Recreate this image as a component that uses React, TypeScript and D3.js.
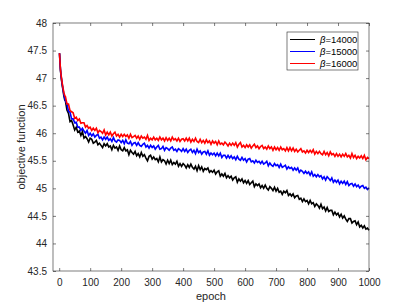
import React, { useEffect, useRef } from "react";
import * as d3 from "d3";

// sampled epochs (dense at the start where the curves drop fast)
const epochs = [
  1, 2, 3, 4, 6, 8, 10, 12, 15, 18,
  20, 25, 30, 35, 40, 45, 50, 55, 60, 65, 70, 75, 80, 85, 90, 95, 100,
  105, 110, 115, 120, 125, 130, 135, 140, 145, 150,
  155, 160, 165, 170, 175, 180, 185, 190, 195, 200,
  205, 210, 215, 220, 225, 230, 235, 240, 245, 250,
  255, 260, 265, 270, 275, 280, 285, 290, 295, 300,
  305, 310, 315, 320, 325, 330, 335, 340, 345, 350,
  355, 360, 365, 370, 375, 380, 385, 390, 395, 400,
  405, 410, 415, 420, 425, 430, 435, 440, 445, 450,
  455, 460, 465, 470, 475, 480, 485, 490, 495, 500,
  505, 510, 515, 520, 525, 530, 535, 540, 545, 550,
  555, 560, 565, 570, 575, 580, 585, 590, 595, 600,
  605, 610, 615, 620, 625, 630, 635, 640, 645, 650,
  655, 660, 665, 670, 675, 680, 685, 690, 695, 700,
  705, 710, 715, 720, 725, 730, 735, 740, 745, 750,
  755, 760, 765, 770, 775, 780, 785, 790, 795, 800,
  805, 810, 815, 820, 825, 830, 835, 840, 845, 850,
  855, 860, 865, 870, 875, 880, 885, 890, 895, 900,
  905, 910, 915, 920, 925, 930, 935, 940, 945, 950,
  955, 960, 965, 970, 975, 980, 985, 990, 995, 1000,
];

const beta14000 = [
  47.45, 47.34, 47.24, 47.15, 47.03, 46.94, 46.86, 46.79, 46.68, 46.6,
  46.59, 46.42, 46.36, 46.21, 46.23, 46.15, 46.06, 46.11, 46.02, 46.04, 45.96, 46.03, 45.91, 45.94, 45.9, 45.84, 45.91,
  45.89, 45.82, 45.84, 45.87, 45.79, 45.82, 45.78, 45.74, 45.81, 45.77,
  45.81, 45.75, 45.77, 45.7, 45.78, 45.73, 45.75, 45.69, 45.77, 45.7,
  45.68, 45.74, 45.68, 45.7, 45.61, 45.69, 45.65, 45.62, 45.67, 45.59,
  45.63, 45.57, 45.65, 45.58, 45.61, 45.55, 45.5, 45.58, 45.6, 45.53,
  45.57, 45.52, 45.54, 45.48, 45.57, 45.48, 45.52, 45.5, 45.44, 45.51,
  45.45, 45.51, 45.43, 45.47, 45.44, 45.49, 45.4, 45.45, 45.4, 45.45,
  45.42, 45.37, 45.43, 45.38, 45.44, 45.38, 45.35, 45.4, 45.32, 45.41,
  45.34, 45.39, 45.31, 45.36, 45.34, 45.37, 45.29, 45.32, 45.29, 45.33,
  45.26, 45.3, 45.32, 45.22, 45.26, 45.22, 45.27, 45.19, 45.23, 45.19,
  45.22, 45.15, 45.19, 45.21, 45.11, 45.17, 45.13, 45.17, 45.1, 45.14,
  45.09, 45.14, 45.07, 45.1, 45.13, 45.03, 45.08, 45.05, 45.08, 45.01,
  45.05, 45.0, 45.06, 45.0, 44.97, 45.03, 45.0, 44.96, 45.02, 44.95,
  45.0, 44.93, 44.95, 44.89, 44.95, 44.92, 44.96, 44.87, 44.9, 44.86,
  44.9, 44.83, 44.86, 44.87, 44.8, 44.82, 44.76, 44.81, 44.76, 44.78,
  44.72, 44.78, 44.72, 44.74, 44.67, 44.72, 44.69, 44.64, 44.71, 44.63,
  44.66, 44.59, 44.65, 44.58, 44.6, 44.6, 44.52, 44.57, 44.52, 44.55,
  44.48, 44.53, 44.46, 44.5, 44.44, 44.4, 44.45, 44.45, 44.37, 44.4,
  44.41, 44.34, 44.39, 44.3, 44.33, 44.28, 44.32, 44.26, 44.28, 44.24,
];

const beta15000 = [
  47.45, 47.35, 47.25, 47.16, 47.05, 46.96, 46.88, 46.81, 46.71, 46.64,
  46.59, 46.53, 46.4, 46.38, 46.26, 46.26, 46.19, 46.2, 46.11, 46.11, 46.05, 46.09, 46.04, 46.0, 46.05, 45.96, 46.0,
  45.95, 45.99, 45.93, 45.96, 45.98, 45.91, 45.93, 45.88, 45.93, 45.89,
  45.93, 45.87, 45.9, 45.85, 45.92, 45.86, 45.84, 45.88, 45.87, 45.83,
  45.87, 45.81, 45.88, 45.82, 45.81, 45.85, 45.78, 45.82, 45.83, 45.78,
  45.83, 45.78, 45.76, 45.8, 45.82, 45.75, 45.78, 45.73, 45.78, 45.74,
  45.77, 45.71, 45.75, 45.78, 45.71, 45.72, 45.76, 45.69, 45.74, 45.72,
  45.69, 45.73, 45.75, 45.69, 45.71, 45.67, 45.72, 45.7, 45.67, 45.72,
  45.67, 45.71, 45.65, 45.69, 45.71, 45.65, 45.69, 45.63, 45.71, 45.65,
  45.68, 45.62, 45.66, 45.67, 45.62, 45.68, 45.6, 45.64, 45.61, 45.64,
  45.59, 45.64, 45.59, 45.64, 45.56, 45.6, 45.6, 45.55, 45.6, 45.55,
  45.59, 45.54, 45.57, 45.52, 45.58, 45.53, 45.51, 45.56, 45.51, 45.54,
  45.48, 45.53, 45.54, 45.48, 45.5, 45.46, 45.51, 45.47, 45.49, 45.45,
  45.49, 45.44, 45.46, 45.49, 45.41, 45.46, 45.42, 45.4, 45.45, 45.41,
  45.43, 45.38, 45.44, 45.38, 45.4, 45.42, 45.35, 45.39, 45.36, 45.38,
  45.33, 45.37, 45.33, 45.37, 45.29, 45.33, 45.31, 45.27, 45.31, 45.27,
  45.3, 45.24, 45.3, 45.22, 45.25, 45.21, 45.25, 45.21, 45.23, 45.17,
  45.21, 45.15, 45.21, 45.18, 45.14, 45.19, 45.11, 45.15, 45.11, 45.15,
  45.08, 45.13, 45.09, 45.13, 45.07, 45.12, 45.05, 45.08, 45.09, 45.04,
  45.08, 45.03, 45.06, 45.01, 45.04, 45.05, 45.0, 45.02, 44.98, 45.01,
];

const beta16000 = [
  47.45, 47.36, 47.26, 47.17, 47.06, 46.98, 46.9, 46.83, 46.74, 46.68,
  46.67, 46.53, 46.53, 46.41, 46.39, 46.37, 46.27, 46.29, 46.23, 46.26, 46.18, 46.19, 46.19, 46.11, 46.14, 46.09, 46.11,
  46.05, 46.09, 46.05, 46.09, 46.01, 46.05, 46.03, 46.0, 46.06, 45.97,
  46.02, 45.97, 46.02, 45.95, 45.99, 46.02, 45.95, 45.98, 45.93, 45.98,
  45.94, 45.98, 45.94, 45.97, 45.91, 45.98, 45.92, 45.94, 45.96, 45.91,
  45.95, 45.89, 45.95, 45.91, 45.93, 45.89, 45.96, 45.87, 45.91, 45.88,
  45.93, 45.88, 45.91, 45.87, 45.93, 45.88, 45.91, 45.86, 45.92, 45.87,
  45.91, 45.86, 45.93, 45.88, 45.9, 45.86, 45.91, 45.85, 45.89, 45.9,
  45.86, 45.91, 45.86, 45.91, 45.84, 45.89, 45.85, 45.91, 45.85, 45.83,
  45.89, 45.83, 45.87, 45.82, 45.88, 45.83, 45.86, 45.8, 45.86, 45.82,
  45.85, 45.79, 45.86, 45.8, 45.82, 45.79, 45.84, 45.81, 45.77, 45.82,
  45.78, 45.82, 45.78, 45.83, 45.75, 45.8, 45.83, 45.75, 45.78, 45.74,
  45.79, 45.75, 45.79, 45.73, 45.77, 45.8, 45.74, 45.77, 45.72, 45.76,
  45.78, 45.72, 45.75, 45.71, 45.77, 45.72, 45.75, 45.69, 45.75, 45.7,
  45.74, 45.69, 45.75, 45.7, 45.72, 45.68, 45.74, 45.68, 45.74, 45.68,
  45.73, 45.67, 45.71, 45.66, 45.69, 45.72, 45.66, 45.68, 45.64, 45.69,
  45.65, 45.69, 45.65, 45.7, 45.62, 45.67, 45.63, 45.67, 45.63, 45.61,
  45.67, 45.61, 45.65, 45.59, 45.66, 45.61, 45.63, 45.58, 45.63, 45.58,
  45.62, 45.57, 45.62, 45.58, 45.63, 45.57, 45.6, 45.55, 45.63, 45.56,
  45.6, 45.54, 45.58, 45.55, 45.59, 45.54, 45.6, 45.52, 45.56, 45.54,
];

const seriesLabels = ["14000", "15000", "16000"];
const seriesColors = ["#000000", "#0000ff", "#ff0000"];
const xTicks = [0, 100, 200, 300, 400, 500, 600, 700, 800, 900, 1000];
const yTicks = [43.5, 44, 44.5, 45, 45.5, 46, 46.5, 47, 47.5, 48];

export default function App() {
  const ref = useRef<SVGSVGElement>(null);

  useEffect(() => {
    const width = 407;
    const height = 305;
    const margin = { top: 23, left: 53, bottom: 34, right: 38 };
    const iwidth = width - margin.left - margin.right;
    const iheight = height - margin.top - margin.bottom;
    const font = "'Liberation Sans', Arial, Helvetica, sans-serif";
    const axisColor = "#262626";

    const svg = d3.select(ref.current);
    svg.selectAll("*").remove();

    const g = svg
      .append("g")
      .attr("transform", `translate(${margin.left},${margin.top})`);

    const x = d3.scaleLinear().domain([-20, 1000]).range([0, iwidth]);
    const y = d3.scaleLinear().domain([43.5, 48]).range([iheight, 0]);

    g.append("rect")
      .attr("width", iwidth)
      .attr("height", iheight)
      .attr("fill", "#fff");

    const series = [beta14000, beta15000, beta16000];
    const line = d3
      .line<number>()
      .x((d, i) => x(epochs[i]))
      .y(d => y(d));

    series.forEach((s, k) => {
      g.append("path")
        .datum(s)
        .attr("fill", "none")
        .attr("stroke", seriesColors[k])
        .attr("stroke-width", 1.6)
        .attr("stroke-linejoin", "miter")
        .attr("d", line);
    });

    const styleAxis = (sel: any) => {
      sel.select(".domain").remove();
      sel.selectAll("line").attr("stroke", axisColor).attr("stroke-width", 0.6);
      sel
        .selectAll("text")
        .attr("fill", axisColor)
        .style("font-family", font)
        .style("font-size", "10px");
    };

    g.append("g")
      .attr("transform", `translate(0,${iheight})`)
      .call(d3.axisBottom(x).tickValues(xTicks).tickSize(-3).tickPadding(8).tickFormat(d3.format("d")) as any)
      .call(styleAxis);

    g.append("g")
      .call(d3.axisTop(x).tickValues(xTicks).tickSize(-3).tickFormat(() => "") as any)
      .call(styleAxis);

    g.append("g")
      .call(d3.axisLeft(y).tickValues(yTicks).tickSize(-3).tickPadding(6).tickFormat(d3.format("")) as any)
      .call(styleAxis);

    g.append("g")
      .attr("transform", `translate(${iwidth},0)`)
      .call(d3.axisRight(y).tickValues(yTicks).tickSize(-3).tickFormat(() => "") as any)
      .call(styleAxis);

    g.append("rect")
      .attr("width", iwidth)
      .attr("height", iheight)
      .attr("fill", "none")
      .attr("stroke", axisColor)
      .attr("stroke-width", 0.6);

    svg
      .append("text")
      .attr("x", margin.left + iwidth / 2)
      .attr("y", 300)
      .attr("text-anchor", "middle")
      .attr("fill", axisColor)
      .style("font-family", font)
      .style("font-size", "11px")
      .text("epoch");

    svg
      .append("text")
      .attr("transform", `translate(25,${margin.top + iheight / 2}) rotate(-90)`)
      .attr("text-anchor", "middle")
      .attr("fill", axisColor)
      .style("font-family", font)
      .style("font-size", "11px")
      .text("objective function");

    // legend
    const legend = svg.append("g").attr("transform", "translate(287,32)");
    legend
      .append("rect")
      .attr("width", 71)
      .attr("height", 38)
      .attr("fill", "#fff")
      .attr("stroke", axisColor)
      .attr("stroke-width", 0.6);

    seriesLabels.forEach((lab, k) => {
      const ly = 7.5 + k * 12;
      legend
        .append("line")
        .attr("x1", 3)
        .attr("x2", 28)
        .attr("y1", ly)
        .attr("y2", ly)
        .attr("stroke", seriesColors[k])
        .attr("stroke-width", 1);
      const t = legend
        .append("text")
        .attr("x", 33)
        .attr("y", ly + 3.5)
        .attr("fill", "#000")
        .style("font-family", font)
        .style("font-size", "9.5px");
      t.append("tspan").style("font-style", "italic").text("β");
      t.append("tspan").text("=" + lab);
    });
  }, []);

  return (
    <svg
      ref={ref}
      width={407}
      height={305}
      style={{ position: "absolute", left: 0, top: 0, background: "#fff" }}
    />
  );
}
